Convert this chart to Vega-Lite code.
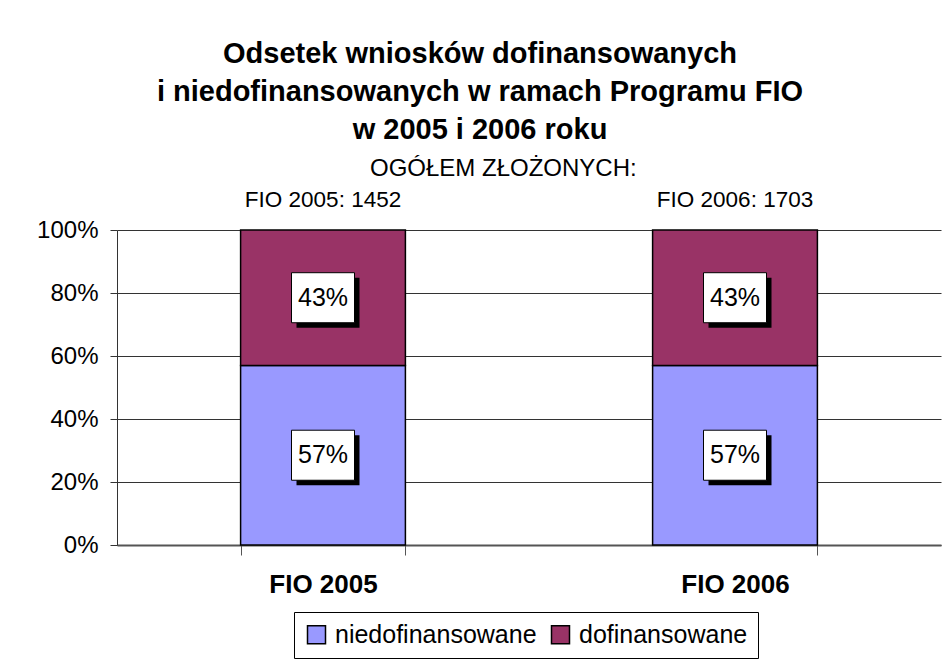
{
  "$schema": "https://vega.github.io/schema/vega-lite/v6.json",
  "width": 824,
  "height": 315,
  "autosize": {"type": "none"},
  "padding": {"left": 117, "top": 230, "right": 2, "bottom": 115},
  "background": "white",
  "title": {
    "text": ["Odsetek wniosków dofinansowanych", "i niedofinansowanych w ramach Programu FIO", "w 2005 i 2006 roku"],
    "subtitle": "\u200b\u00a0\u00a0\u00a0\u00a0\u00a0\u00a0\u00a0OGÓŁEM ZŁOŻONYCH:",
    "anchor": "middle",
    "dx": -49,
    "font": "Liberation Sans",
    "fontSize": 29,
    "fontWeight": "bold",
    "lineHeight": 38,
    "subtitleFont": "Liberation Sans",
    "subtitleFontSize": 24,
    "subtitleColor": "black",
    "subtitlePadding": 12,
    "color": "black",
    "offset": 8
  },
  "datasets": {
    "bars": [
      {"cat": "FIO 2005", "series": "niedofinansowane", "k": 1, "value": 0.57},
      {"cat": "FIO 2005", "series": "dofinansowane", "k": 2, "value": 0.43},
      {"cat": "FIO 2006", "series": "niedofinansowane", "k": 1, "value": 0.57},
      {"cat": "FIO 2006", "series": "dofinansowane", "k": 2, "value": 0.43}
    ],
    "totals": [
      {"cat": "FIO 2005", "total": 1452},
      {"cat": "FIO 2006", "total": 1703}
    ]
  },
  "encoding": {
    "x": {
      "field": "cat",
      "type": "nominal",
      "scale": {"paddingInner": 0.6, "paddingOuter": 0.3},
      "axis": {
        "title": null,
        "labelAngle": 0,
        "labelFont": "Liberation Sans",
        "labelFontSize": 26,
        "labelFontWeight": "bold",
        "labelColor": "black",
        "labelPadding": 16,
        "tickBand": "extent",
        "tickSize": 10,
        "tickColor": "#555",
        "domainColor": "#555",
        "domainWidth": 2,
        "grid": false
      }
    }
  },
  "layer": [
    {
      "data": {"name": "bars"},
      "transform": [
        {"stack": "value", "groupby": ["cat"], "sort": [{"field": "k", "order": "ascending"}], "as": ["y0", "y1"]}
      ],
      "mark": {"type": "bar", "stroke": "black", "strokeWidth": 1.5},
      "encoding": {
        "y": {
          "field": "y0",
          "type": "quantitative",
          "scale": {"domain": [0, 1]},
          "axis": {
            "title": null,
            "format": ".0%",
            "values": [0, 0.2, 0.4, 0.6, 0.8, 1],
            "labelFont": "Liberation Sans",
            "labelFontSize": 24,
            "labelColor": "black",
            "labelPadding": 12,
            "tickSize": 7,
            "tickColor": "#333",
            "domainColor": "#333",
            "gridColor": "#333",
            "gridWidth": 1
          }
        },
        "y2": {"field": "y1"},
        "color": {
          "field": "series",
          "type": "nominal",
          "scale": {"domain": ["niedofinansowane", "dofinansowane"], "range": ["#9999FF", "#993366"]},
          "legend": {
            "title": null,
            "orient": "none",
            "legendX": 177,
            "legendY": 382,
            "direction": "horizontal",
            "strokeColor": "black",
            "padding": 10,
            "symbolType": "square",
            "symbolSize": 324,
            "symbolStrokeColor": "black",
            "symbolStrokeWidth": 1.5,
            "labelFont": "Liberation Sans",
            "labelFontSize": 25,
            "labelColor": "black",
            "labelOffset": 6,
            "columnPadding": 11,
            "labelLimit": 300
          }
        }
      }
    },
    {
      "data": {"name": "bars"},
      "transform": [
        {"stack": "value", "groupby": ["cat"], "sort": [{"field": "k", "order": "ascending"}], "as": ["y0", "y1"]},
        {"calculate": "(datum.y0 + datum.y1) / 2", "as": "mid"}
      ],
      "mark": {
        "type": "point",
        "shape": "M-1,-0.794L1,-0.794L1,0.794L-1,0.794Z",
        "size": 3969,
        "filled": true,
        "fill": "black",
        "opacity": 1,
        "xOffset": 5,
        "yOffset": 5
      },
      "encoding": {
        "y": {"field": "mid", "type": "quantitative"}
      }
    },
    {
      "data": {"name": "bars"},
      "transform": [
        {"stack": "value", "groupby": ["cat"], "sort": [{"field": "k", "order": "ascending"}], "as": ["y0", "y1"]},
        {"calculate": "(datum.y0 + datum.y1) / 2", "as": "mid"}
      ],
      "mark": {
        "type": "point",
        "shape": "M-1,-0.794L1,-0.794L1,0.794L-1,0.794Z",
        "size": 3969,
        "filled": true,
        "fill": "white",
        "stroke": "black",
        "strokeWidth": 1,
        "opacity": 1
      },
      "encoding": {
        "y": {"field": "mid", "type": "quantitative"}
      }
    },
    {
      "data": {"name": "bars"},
      "transform": [
        {"stack": "value", "groupby": ["cat"], "sort": [{"field": "k", "order": "ascending"}], "as": ["y0", "y1"]},
        {"calculate": "(datum.y0 + datum.y1) / 2", "as": "mid"}
      ],
      "mark": {
        "type": "text",
        "font": "Liberation Sans",
        "fontSize": 25,
        "color": "black",
        "baseline": "middle",
        "align": "center"
      },
      "encoding": {
        "y": {"field": "mid", "type": "quantitative"},
        "text": {"field": "value", "type": "quantitative", "format": ".0%"}
      }
    },
    {
      "data": {"name": "totals"},
      "transform": [
        {"calculate": "datum.cat + ': ' + datum.total", "as": "label"},
        {"calculate": "1", "as": "top"}
      ],
      "mark": {
        "type": "text",
        "font": "Liberation Sans",
        "fontSize": 22.5,
        "color": "black",
        "baseline": "alphabetic",
        "align": "center",
        "dy": -23
      },
      "encoding": {
        "y": {"field": "top", "type": "quantitative"},
        "text": {"field": "label", "type": "nominal"}
      }
    }
  ],
  "config": {
    "view": {"stroke": null},
    "font": "Liberation Sans"
  }
}
